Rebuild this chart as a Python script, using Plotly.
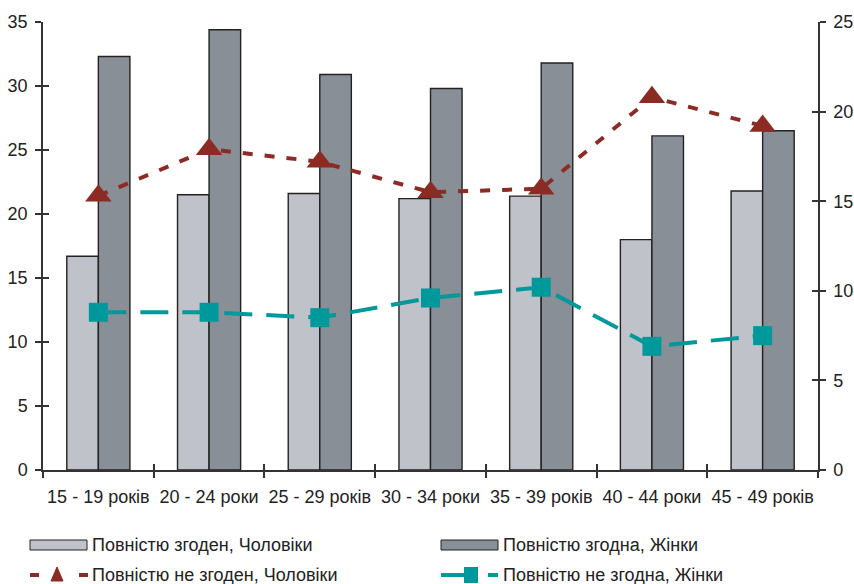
import plotly.graph_objects as go

categories = ["15 - 19 років", "20 - 24 роки", "25 - 29 років", "30 - 34 роки",
              "35 - 39 років", "40 - 44 роки", "45 - 49 років"]
men_agree = [16.7, 21.5, 21.6, 21.2, 21.4, 18.0, 21.8]
women_agree = [32.3, 34.4, 30.9, 29.8, 31.8, 26.1, 26.5]
men_disagree = [15.3, 17.9, 17.2, 15.5, 15.7, 20.8, 19.2]
women_disagree = [8.8, 8.8, 8.5, 9.6, 10.2, 6.9, 7.5]

names = ["Повністю згоден, Чоловіки", "Повністю згодна, Жінки",
         "Повністю не згоден, Чоловіки", "Повністю не згодна, Жінки"]

LIGHT = "#bfc2c9"
DARK = "#898f96"
RED = "#8c2b24"
TEAL = "#00999b"
FONT = "Arial, Liberation Sans, sans-serif"
FS = 18

W, H = 854, 584
L, R, T, B = 43, 36, 22, 114
PW, PH = W - L - R, H - T - B

fig = go.Figure()
fig.add_trace(go.Bar(x=categories, y=men_agree, name=names[0], marker=dict(color=LIGHT, line=dict(color="#222", width=1.4)), showlegend=False))
fig.add_trace(go.Bar(x=categories, y=women_agree, name=names[1], marker=dict(color=DARK, line=dict(color="#222", width=1.4)), showlegend=False))
fig.add_trace(go.Scatter(x=categories, y=men_disagree, name=names[2], yaxis="y2", mode="lines+markers",
                         line=dict(color=RED, width=4, dash="10px,12px"),
                         marker=dict(symbol="triangle-up", size=23, color=RED), showlegend=False))
fig.add_trace(go.Scatter(x=categories, y=women_disagree, name=names[3], yaxis="y2", mode="lines+markers",
                         line=dict(color=TEAL, width=4, dash="28px,14px"),
                         marker=dict(symbol="square", size=19, color=TEAL), showlegend=False))

# helper conversions for manual legend (pixel -> paper)
def px(x):
    return (x - L) / PW

def py(y):
    return (H - B - y) / PH

shapes = []
annotations = []
# row 1: bars
for x0, col, txt in [(30, LIGHT, names[0]), (441, DARK, names[1])]:
    shapes.append(dict(type="rect", xref="paper", yref="paper", x0=px(x0), x1=px(x0 + 57),
                       y0=py(550), y1=py(540), fillcolor=col, line=dict(color="#222", width=1)))
    annotations.append(dict(xref="paper", yref="paper", x=px(x0 + 60), y=py(545), text=txt,
                            showarrow=False, xanchor="left", yanchor="middle", font=dict(size=FS, family=FONT, color="#222")))
# row 2: lines
y2 = 575
shapes.append(dict(type="line", xref="paper", yref="paper", x0=px(30), x1=px(39), y0=py(y2), y1=py(y2), line=dict(color=RED, width=4)))
shapes.append(dict(type="line", xref="paper", yref="paper", x0=px(79), x1=px(88), y0=py(y2), y1=py(y2), line=dict(color=RED, width=4)))
shapes.append(dict(type="path", xref="paper", yref="paper",
                   path=f"M {px(51)} {py(581)} L {px(63)} {py(581)} L {px(57)} {py(567)} Z",
                   fillcolor=RED, line=dict(color=RED, width=1)))
shapes.append(dict(type="line", xref="paper", yref="paper", x0=px(441), x1=px(468), y0=py(y2), y1=py(y2), line=dict(color=TEAL, width=4)))
shapes.append(dict(type="line", xref="paper", yref="paper", x0=px(488), x1=px(498), y0=py(y2), y1=py(y2), line=dict(color=TEAL, width=4)))
shapes.append(dict(type="rect", xref="paper", yref="paper", x0=px(464), x1=px(478), y0=py(583), y1=py(567),
                   fillcolor=TEAL, line=dict(color=TEAL, width=0)))
annotations.append(dict(xref="paper", yref="paper", x=px(90), y=py(y2), text=names[2], showarrow=False,
                        xanchor="left", yanchor="middle", font=dict(size=FS, family=FONT, color="#222")))
annotations.append(dict(xref="paper", yref="paper", x=px(501), y=py(y2), text=names[3], showarrow=False,
                        xanchor="left", yanchor="middle", font=dict(size=FS, family=FONT, color="#222")))

axis_common = dict(showgrid=False, zeroline=False, showline=True, linecolor="#333", linewidth=1.5,
                   ticks="outside", ticklen=6, tickcolor="#333", tickwidth=1.5, automargin=False,
                   tickfont=dict(size=FS, family=FONT, color="#222"))

fig.update_layout(
    width=W, height=H,
    margin=dict(l=L, r=R, t=T, b=B, autoexpand=False),
    paper_bgcolor="white", plot_bgcolor="white",
    barmode="group", bargap=0.43, bargroupgap=0,
    font=dict(family=FONT, size=FS, color="#222"),
    xaxis=dict(**axis_common, type="category", tickson="boundaries", range=[-0.5, 6.5], tickangle=0,
               ticklabelstandoff=10),
    yaxis=dict(**axis_common, range=[0, 35], tickvals=[0, 5, 10, 15, 20, 25, 30, 35], ticklabelstandoff=4),
    yaxis2=dict(**axis_common, range=[0, 25], tickvals=[0, 5, 10, 15, 20, 25], overlaying="y", side="right",
                ticklabelstandoff=4),
    yaxis3=dict(showgrid=False, zeroline=False, showline=False, ticks="inside", ticklen=6, tickcolor="#333",
                tickwidth=1.5, range=[0, 35], tickvals=[0, 5, 10, 15, 20, 25, 30, 35], showticklabels=False,
                overlaying="y", side="left", automargin=False),
    yaxis4=dict(showgrid=False, zeroline=False, showline=False, ticks="inside", ticklen=6, tickcolor="#333",
                tickwidth=1.5, range=[0, 25], tickvals=[0, 5, 10, 15, 20, 25], showticklabels=False,
                overlaying="y", side="right", automargin=False),
    xaxis2=dict(showgrid=False, zeroline=False, showline=False, ticks="inside", ticklen=6, tickcolor="#333",
                tickwidth=1.5, type="category", tickson="boundaries", range=[-0.5, 6.5], showticklabels=False,
                overlaying="x", side="bottom", categoryarray=categories, categoryorder="array", automargin=False),
    shapes=shapes, annotations=annotations, showlegend=False,
)
# invisible traces to activate the tick-only overlay axes
fig.add_trace(go.Scatter(x=categories, y=[None] * len(categories), xaxis="x2", yaxis="y3", showlegend=False, hoverinfo="skip"))
fig.add_trace(go.Scatter(x=categories, y=[None] * len(categories), xaxis="x2", yaxis="y4", showlegend=False, hoverinfo="skip"))

fig.write_html("out.html", config={"displayModeBar": False},
               post_script="document.body.style.margin='0';document.body.style.overflow='hidden';")
